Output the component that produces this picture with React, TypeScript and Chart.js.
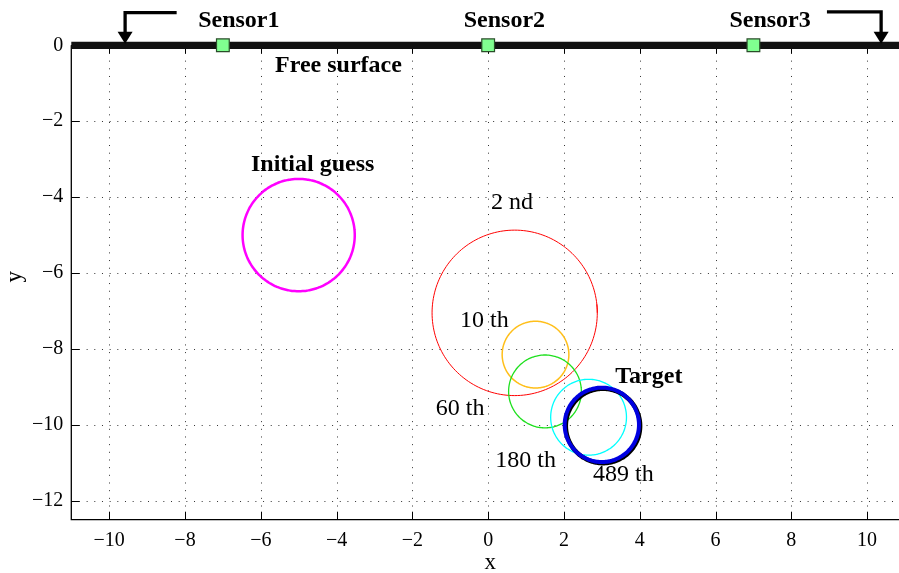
import React, { useEffect, useRef } from 'react';
import { Chart, registerables } from 'chart.js';
Chart.register(...registerables);

const xTicks = [-10, -8, -6, -4, -2, 0, 2, 4, 6, 8, 10];
const yTicks = [-12, -10, -8, -6, -4, -2, 0];
const xRange = [-11, 11];
const yRange = [-12.5, 0];

const circleNames = ['Initial guess', '2 nd', '10 th', '60 th', '180 th', 'Target', '489 th'];
const circleCX = [-5, 0.7, 1.25, 1.5, 2.65, 3.03, 3.0];
const circleCY = [-5, -7.05, -8.15, -9.12, -9.8, -10.03, -10.0];
const circleR = [1.48, 2.18, 0.88, 0.96, 1.0, 0.98, 0.98];
const circleColors = ['#ff00ff', '#ff0000', '#ffbf1a', '#1ee01e', '#00ffff', '#000000', '#0000e0'];
const circleWidths = [2.5, 1, 1.5, 1.3, 1.3, 4.5, 4];

const surfaceX = [-11, 11];
const surfaceY = [0, 0];
const sensorX = [-7, 0, 7];
const sensorY = [0, 0, 0];

const labelTexts = ['Sensor1', 'Sensor2', 'Sensor3', 'Free surface', 'Initial guess', '2 nd', '10 th', '60 th', '180 th', '489 th', 'Target'];
const labelX = [-6.58, 0.43, 7.44, -3.95, -4.63, 0.63, -0.1, -0.74, 0.99, 3.57, 4.24];
const labelY = [0.65, 0.65, 0.65, -0.53, -3.15, -4.16, -7.25, -9.57, -10.95, -11.32, -8.73];
const labelBold = [true, true, true, true, true, false, false, false, false, false, true];

const arrowStartX = [-8.22, 8.94];
const arrowCornerX = [-9.58, 10.37];
const arrowTopY = [0.86, 0.88];
const arrowTipY = [0.04, 0.04];

const FONT = "'Liberation Serif', 'Times New Roman', serif";
const fmt = (v: number) => (v < 0 ? '\u2212' + Math.abs(v) : String(v));

function circlePoints(cx: number, cy: number, r: number) {
  const pts: { x: number; y: number }[] = [];
  const n = 180;
  for (let i = 0; i <= n + 3; i++) {
    const t = (i / n) * Math.PI * 2;
    pts.push({ x: cx + r * Math.cos(t), y: cy + r * Math.sin(t) });
  }
  return pts;
}

const decorPlugin = {
  id: 'decor',
  beforeDatasetsDraw(chart: any) {
    const { ctx, chartArea: a, scales } = chart;
    const xs = scales.x, ys = scales.y;
    ctx.save();
    ctx.strokeStyle = '#333';
    ctx.lineWidth = 1;
    ctx.setLineDash([1, 6.67]);
    xTicks.forEach((v) => {
      const px = Math.round(xs.getPixelForValue(v)) + 0.5;
      ctx.beginPath();
      ctx.moveTo(px, a.top);
      ctx.lineTo(px, a.bottom);
      ctx.stroke();
    });
    yTicks.forEach((v) => {
      const py = Math.round(ys.getPixelForValue(v)) + 0.5;
      ctx.beginPath();
      ctx.moveTo(a.left, py);
      ctx.lineTo(a.right, py);
      ctx.stroke();
    });
    ctx.setLineDash([]);
    ctx.strokeStyle = '#000';
    ctx.lineWidth = 1.3;
    ctx.beginPath();
    ctx.moveTo(a.left, a.top);
    ctx.lineTo(a.left, a.bottom);
    ctx.lineTo(a.right, a.bottom);
    ctx.stroke();
    ctx.lineWidth = 1;
    const tl = 8;
    xTicks.forEach((v) => {
      const px = Math.round(xs.getPixelForValue(v)) + 0.5;
      ctx.beginPath();
      ctx.moveTo(px, a.bottom);
      ctx.lineTo(px, a.bottom - tl);
      ctx.moveTo(px, a.top);
      ctx.lineTo(px, a.top + tl);
      ctx.stroke();
    });
    yTicks.forEach((v) => {
      const py = Math.round(ys.getPixelForValue(v)) + 0.5;
      ctx.beginPath();
      ctx.moveTo(a.left, py);
      ctx.lineTo(a.left + tl, py);
      ctx.stroke();
    });
    ctx.restore();
  },
  afterDatasetsDraw(chart: any) {
    const { ctx, scales } = chart;
    const xs = scales.x, ys = scales.y;
    ctx.save();
    ctx.strokeStyle = '#000';
    ctx.fillStyle = '#000';
    ctx.lineWidth = 3.3;
    arrowStartX.forEach((sx, i) => {
      const x0 = xs.getPixelForValue(sx);
      const xc = xs.getPixelForValue(arrowCornerX[i]);
      const yt = ys.getPixelForValue(arrowTopY[i]);
      const ytip = ys.getPixelForValue(arrowTipY[i]);
      const hh = 12, hw = 7.5;
      ctx.beginPath();
      ctx.moveTo(x0, yt);
      ctx.lineTo(xc, yt);
      ctx.lineTo(xc, ytip - hh + 1);
      ctx.stroke();
      ctx.beginPath();
      ctx.moveTo(xc - hw, ytip - hh);
      ctx.lineTo(xc + hw, ytip - hh);
      ctx.lineTo(xc, ytip);
      ctx.closePath();
      ctx.fill();
    });
    ctx.textAlign = 'center';
    ctx.textBaseline = 'middle';
    labelTexts.forEach((t, i) => {
      ctx.font = (labelBold[i] ? 'bold ' : '') + '24px ' + FONT;
      ctx.fillStyle = '#000';
      ctx.fillText(t, xs.getPixelForValue(labelX[i]), ys.getPixelForValue(labelY[i]));
    });
    ctx.font = '23px ' + FONT;
    ctx.fillText('x', xs.getPixelForValue(0) + 2, 563);
    ctx.save();
    ctx.translate(15, ys.getPixelForValue(-6.1));
    ctx.rotate(-Math.PI / 2);
    ctx.fillText('y', 0, 0);
    ctx.restore();
    ctx.restore();
  },
};

export default function App() {
  const ref = useRef<HTMLCanvasElement | null>(null);
  useEffect(() => {
    if (!ref.current) return;
    const datasets: any[] = [];
    datasets.push({
      type: 'scatter',
      data: sensorX.map((x, i) => ({ x, y: sensorY[i] })),
      pointStyle: 'rect',
      pointRadius: 9,
      backgroundColor: '#80ff90',
      borderColor: '#2a4d2a',
      borderWidth: 1.2,
      clip: false,
      order: 0,
    });
    datasets.push({
      type: 'line',
      data: surfaceX.map((x, i) => ({ x, y: surfaceY[i] })),
      borderColor: '#111',
      borderWidth: 7.3,
      pointRadius: 0,
      clip: false,
      order: 1,
    });
    const ordering = [8, 7, 6, 5, 4, 3, 2];
    circleNames.forEach((name, i) => {
      datasets.push({
        type: 'line',
        label: name,
        data: circlePoints(circleCX[i], circleCY[i], circleR[i]),
        borderColor: circleColors[i],
        borderWidth: circleWidths[i],
        pointRadius: 0,
        tension: 0.3,
        fill: false,
        order: ordering[i],
      });
    });
    const chart = new Chart(ref.current, {
      type: 'scatter',
      data: { datasets },
      plugins: [decorPlugin],
      options: {
        animation: false,
        responsive: false,
        devicePixelRatio: 1,
        layout: { autoPadding: false, padding: { top: 45.3, right: 1, left: 0, bottom: 0 } },
        plugins: { legend: { display: false }, tooltip: { enabled: false } },
        scales: {
          x: {
            type: 'linear',
            min: xRange[0],
            max: xRange[1],
            afterBuildTicks: (s: any) => { s.ticks = xTicks.map((v) => ({ value: v })); },
            afterFit: (s: any) => { s.height = 53.3; },
            grid: { display: false, drawTicks: false },
            border: { display: false },
            ticks: {
              font: { family: FONT, size: 20 },
              color: '#000',
              padding: 9,
              maxRotation: 0,
              autoSkip: false,
              callback: (v: any) => fmt(Number(v)),
            },
          },
          y: {
            type: 'linear',
            min: yRange[0],
            max: yRange[1],
            afterBuildTicks: (s: any) => { s.ticks = yTicks.map((v) => ({ value: v })); },
            afterFit: (s: any) => { s.width = 71.3; },
            grid: { display: false, drawTicks: false },
            border: { display: false },
            ticks: {
              font: { family: FONT, size: 20 },
              color: '#000',
              padding: 8,
              autoSkip: false,
              callback: (v: any) => fmt(Number(v)),
            },
          },
        },
      } as any,
    });
    return () => chart.destroy();
  }, []);
  return (
    <div style={{ position: 'fixed', left: 0, top: 0, width: 899, height: 573, overflow: 'hidden', background: '#fff' }}>
      <canvas ref={ref} width={906} height={573} style={{ display: 'block', width: 906, height: 573 }} />
    </div>
  );
}
